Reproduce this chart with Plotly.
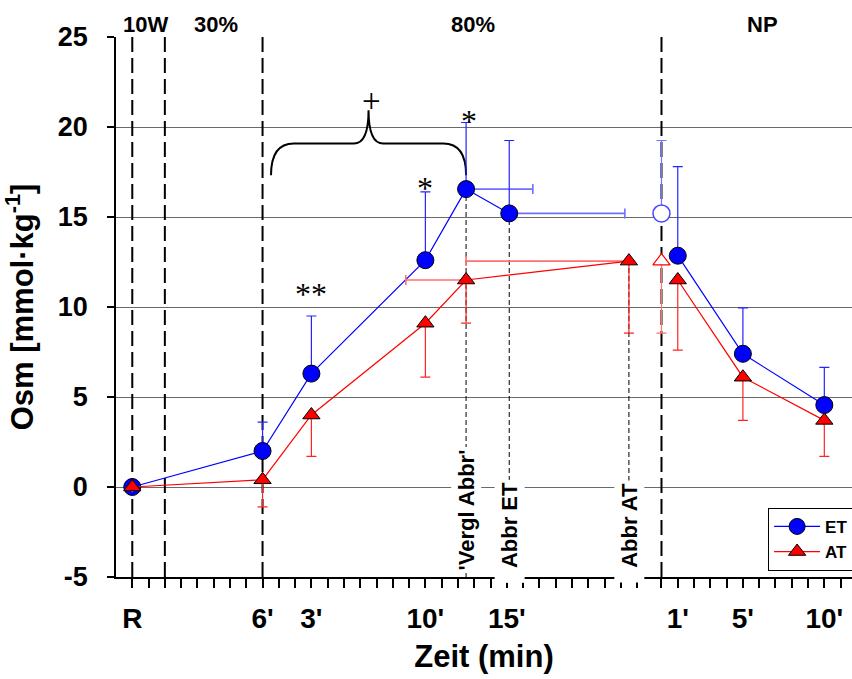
import plotly.graph_objects as go

# ---------------- data ----------------
# x positions on a continuous minute axis (R = 0, one unit per minute);
# the recovery phase (NP) is offset by half a unit.
ex_x_et = [0, 8, 11, 18, 20.5, 23.15]
ex_y_et = [0.0, 2.0, 6.3, 12.6, 16.55, 15.2]
ex_up_et = [None, 1.6, 3.2, 3.8, 3.7, 4.05]
ex_xplus_et = [None, None, None, None, 4.1, 7.1]

ex_x_at = [0, 8, 11, 18, 20.5, 30.5]
ex_y_at = [0.0, 0.4, 4.0, 9.1, 11.5, 12.55]
ex_dn_at = [None, 1.5, 2.3, 3.0, 2.4, 4.0]
ex_xminus_at = [None, None, None, None, 3.7, 10.0]

np_x = 32.5
np_y_et, np_up_et = 15.2, 4.05
np_y_at, np_dn_at = 12.55, 4.0

rec_x = [33.5, 37.5, 42.5]
rec_y_et = [12.85, 7.4, 4.55]
rec_up_et = [4.95, 2.55, 2.1]
rec_y_at = [11.5, 6.1, 3.7]
rec_dn_at = [3.9, 2.4, 2.0]

phase_lines = [0, 2, 8, 32.5]
phase_labels = ["10W", "30%", "80%", "NP"]
phase_label_x = [0.8, 5.15, 20.9, 38.7]

tick_pos = list(range(0, 32)) + [32.5 + i for i in range(12)]
tick_lab = {0: "R", 8: "6'", 11: "3'", 18: "10'", 23: "15'",
            33.5: "1'", 37.5: "5'", 42.5: "10'"}

y_ticks = [-5, 0, 5, 10, 15, 20, 25]
y_tick_text = ["-5", "0", "5", "10", "15", "20", "25"]

marker_labels = ["'Vergl Abbr'", "\u00a0\u00a0Abbr ET", "\u00a0\u00a0Abbr AT"]

FONT = "Liberation Sans, Arial, Helvetica, sans-serif"
SERIF = "Liberation Serif, Times New Roman, serif"
BLUE, RED = "#0000ff", "#ff0000"
BLUE_ERR, RED_ERR = "#2424ff", "#ff2424"
BLUE_ERRX, RED_ERRX = "#7070ff", "#ff7070"

fig = go.Figure()

# exercise phase + recovery phase joined by a gap so the line breaks
gap = [None]
n_et = len(ex_x_et) + 1 + len(rec_x)
n_at = len(ex_x_at) + 1 + len(rec_x)
fig.add_trace(go.Scatter(
    name="ET", legendgroup="ET",
    x=ex_x_et + gap + rec_x, y=ex_y_et + gap + rec_y_et,
    mode="lines+markers", connectgaps=False,
    line=dict(color=BLUE, width=1.2),
    marker=dict(symbol="circle", size=17, color=BLUE, line=dict(color="black", width=1)),
    error_y=dict(type="data", symmetric=False, array=ex_up_et + gap + rec_up_et,
                 arrayminus=[None] * n_et, color=BLUE_ERR, thickness=1.2, width=5),
    error_x=dict(type="data", symmetric=False, array=ex_xplus_et + gap + [None] * 3,
                 arrayminus=[None] * n_et, color=BLUE_ERRX, thickness=1.6, width=5),
))
fig.add_trace(go.Scatter(
    name="AT", legendgroup="AT",
    x=ex_x_at + gap + rec_x, y=ex_y_at + gap + rec_y_at,
    mode="lines+markers", connectgaps=False,
    line=dict(color=RED, width=1.2),
    marker=dict(symbol="triangle-up", size=15, color=RED, line=dict(color="black", width=1)),
    error_y=dict(type="data", symmetric=False, arrayminus=ex_dn_at + gap + rec_dn_at,
                 array=[None] * n_at, color=RED_ERR, thickness=1.2, width=5),
    error_x=dict(type="data", symmetric=False, arrayminus=ex_xminus_at + gap + [None] * 3,
                 array=[None] * n_at, color=RED_ERRX, thickness=1.6, width=5),
))

# open markers at the start of the recovery phase
fig.add_trace(go.Scatter(
    x=[np_x], y=[np_y_et], mode="markers", showlegend=False,
    marker=dict(symbol="circle", size=17, color="white", line=dict(color="#4848ff", width=1.5)),
    error_y=dict(type="data", symmetric=False, array=[np_up_et], arrayminus=[None],
                 color=BLUE_ERRX, thickness=1.2, width=5),
))
fig.add_trace(go.Scatter(
    x=[np_x], y=[np_y_at], mode="markers", showlegend=False,
    marker=dict(symbol="triangle-up", size=15, color="white", line=dict(color=RED, width=1.2)),
    error_y=dict(type="data", symmetric=False, arrayminus=[np_dn_at], array=[None],
                 color=RED_ERRX, thickness=1.2, width=5),
))

shapes = []
# phase boundaries
for xv in phase_lines:
    shapes.append(dict(type="line", xref="x", yref="y", x0=xv, x1=xv, y0=-5, y1=25,
                       line=dict(color="black", width=2, dash="15px,6px"), layer="between"))

# thin dashed markers for the abort points
abort_x = [ex_x_et[4], ex_x_et[5], ex_x_at[5]]
abort_top = [ex_y_et[4], ex_y_et[5], ex_y_at[5]]
for xv, yt in zip(abort_x, abort_top):
    shapes.append(dict(type="line", xref="x", yref="y", x0=xv, x1=xv, y0=-5, y1=yt,
                       line=dict(color="black", width=1, dash="5px,3px"), layer="between"))

# curly brace spanning the 80 % phase up to the comparison point
bl, br = ex_x_et[1] + 0.52, ex_x_et[4]
bm = (bl + br) / 2
yb, yh, yp = 17.32, 19.08, 20.93
brace = (f"M {bl},{yb} Q {bl},{yh} {bl+1.4},{yh} L {bm-0.9},{yh} "
         f"Q {bm},{yh} {bm},{yp} Q {bm},{yh} {bm+0.9},{yh} "
         f"L {br-1.4},{yh} Q {br},{yh} {br},{yb}")
shapes.append(dict(type="path", xref="x", yref="y", path=brace,
                   line=dict(color="black", width=2), layer="between"))

annotations = []
for lab, xv in zip(phase_labels, phase_label_x):
    annotations.append(dict(text=lab, x=xv, xref="x", y=1, yref="paper", yshift=13,
                            showarrow=False, xanchor="center", yanchor="middle",
                            font=dict(family=FONT, size=22, color="black", weight="bold")))

label_y = [-1.3, -2.45, -2.45]
for lab, xv, yv in zip(marker_labels, abort_x, label_y):
    annotations.append(dict(text=lab, x=xv, y=yv, xref="x", yref="y", textangle=-90,
                            showarrow=False, bgcolor="white", borderpad=2,
                            font=dict(family=FONT, size=22, color="black", weight="bold")))

# significance marks
sig_font = dict(family=SERIF, size=32, color="black")
annotations += [
    dict(text="**", x=ex_x_et[2], y=10.75, xref="x", yref="y", showarrow=False, font=sig_font),
    dict(text="*", x=ex_x_et[3], y=16.6, xref="x", yref="y", showarrow=False, font=sig_font),
    dict(text="*", x=ex_x_et[4] + 0.2, y=20.35, xref="x", yref="y", showarrow=False, font=sig_font),
    dict(text="+", x=bm + 0.2, y=21.45, xref="x", yref="y", showarrow=False,
         font=dict(family=SERIF, size=33, color="black")),
]

fig.update_layout(
    width=852, height=679,
    margin=dict(l=116, r=0, t=37, b=102, autoexpand=False),
    paper_bgcolor="white", plot_bgcolor="white",
    shapes=shapes, annotations=annotations,
    legend=dict(x=0.886, y=0.128, xanchor="left", yanchor="top",
                bgcolor="white", bordercolor="black", borderwidth=1,
                font=dict(family=FONT, size=17, color="black", weight="bold"),
                itemwidth=46, tracegroupgap=0),
    xaxis=dict(range=[-1, 44.2], showgrid=False, zeroline=False,
               showline=True, linecolor="black", linewidth=1.5,
               ticks="outside", ticklen=9, tickwidth=1.5, tickcolor="black",
               tickmode="array", tickvals=tick_pos,
               ticktext=[tick_lab.get(t, "") for t in tick_pos],
               ticklabelstandoff=7,
               tickfont=dict(family=FONT, size=28, color="black", weight="bold"),
               title=dict(text="Zeit (min)", standoff=12,
                          font=dict(family=FONT, size=31, color="black", weight="bold"))),
    yaxis=dict(range=[-5, 25], tickmode="array", tickvals=y_ticks, ticktext=y_tick_text,
               showgrid=True, gridcolor="#6a6a6a", gridwidth=1.2, zeroline=False,
               showline=True, linecolor="black", linewidth=1.5,
               ticks="outside", ticklen=7, tickwidth=1.5, tickcolor="black",
               ticklabelstandoff=14,
               tickfont=dict(family=FONT, size=27, color="black", weight="bold"),
               title=dict(text="Osm [mmol\u00b7kg<sup>-1</sup>]", standoff=36,
                          font=dict(family=FONT, size=31, color="black", weight="bold"))),
)

fig.write_html("out.html")
